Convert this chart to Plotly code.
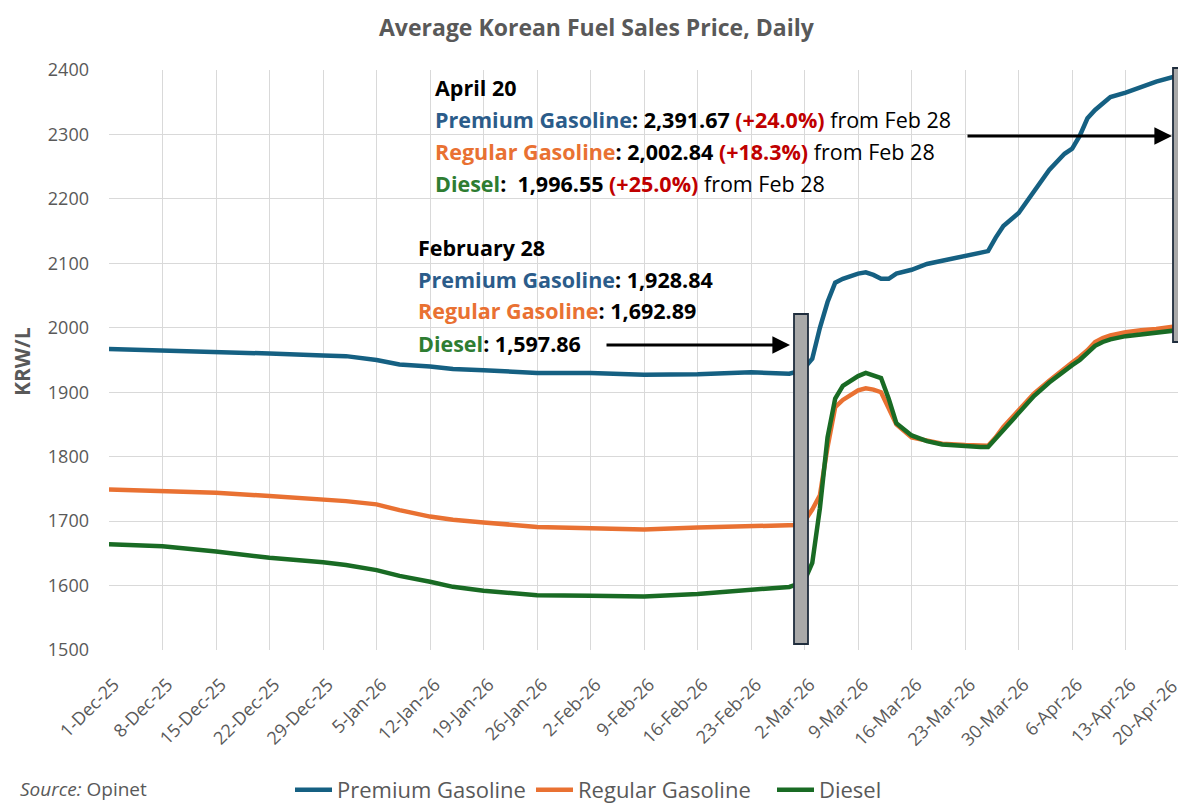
import plotly.graph_objects as go

# ---------------- data ----------------
dates = ["2025-12-01","2025-12-08","2025-12-15","2025-12-22","2025-12-29","2026-01-01","2026-01-05",
         "2026-01-08","2026-01-12","2026-01-15","2026-01-19","2026-01-26","2026-02-02","2026-02-09",
         "2026-02-16","2026-02-23","2026-02-28","2026-03-01","2026-03-02","2026-03-03","2026-03-04",
         "2026-03-05","2026-03-06","2026-03-07","2026-03-09","2026-03-10","2026-03-11","2026-03-12",
         "2026-03-13","2026-03-14","2026-03-16","2026-03-18","2026-03-20","2026-03-23","2026-03-25",
         "2026-03-26","2026-03-27","2026-03-28","2026-03-30","2026-04-01","2026-04-03","2026-04-05",
         "2026-04-06","2026-04-07","2026-04-08","2026-04-09","2026-04-10","2026-04-11","2026-04-13",
         "2026-04-15","2026-04-17","2026-04-20"]

premium = [1967,1965,1963,1960,1957,1956,1950,1943,1940,1936,1934,1930,1930,1927,1928,1931,1928.84,
           1932,1938,1952,2000,2040,2070,2076,2084,2086,2082,2076,2076,2084,2090,2099,2104,2112,2117,
           2119,2140,2158,2178,2212,2245,2270,2278,2298,2325,2338,2348,2358,2365,2373,2382,2391.67]

regular = [1749,1747,1744,1739,1734,1731,1726,1717,1707,1702,1698,1691,1689,1687,1690,1692,1692.89,
           1694,1700,1718,1740,1815,1877,1888,1903,1906,1904,1900,1875,1850,1830,1825,1820,1818,1818,
           1817,1830,1846,1872,1898,1918,1938,1946,1955,1965,1978,1984,1988,1993,1996,1998,2002.84]

diesel = [1664,1661,1653,1643,1636,1632,1624,1615,1606,1598,1592,1585,1584,1583,1587,1594,1597.86,
          1602,1608,1635,1720,1830,1890,1910,1925,1930,1926,1922,1890,1852,1833,1824,1819,1816,1815,
          1815,1828,1843,1868,1894,1915,1934,1942,1950,1960,1972,1978,1982,1987,1990,1993,1996.55]

tick_dates = ["2025-12-01","2025-12-08","2025-12-15","2025-12-22","2025-12-29","2026-01-05","2026-01-12",
              "2026-01-19","2026-01-26","2026-02-02","2026-02-09","2026-02-16","2026-02-23","2026-03-02",
              "2026-03-09","2026-03-16","2026-03-23","2026-03-30","2026-04-06","2026-04-13","2026-04-20"]
tick_labels = ["1-Dec-25","8-Dec-25","15-Dec-25","22-Dec-25","29-Dec-25","5-Jan-26","12-Jan-26",
               "19-Jan-26","26-Jan-26","2-Feb-26","9-Feb-26","16-Feb-26","23-Feb-26","2-Mar-26",
               "9-Mar-26","16-Mar-26","23-Mar-26","30-Mar-26","6-Apr-26","13-Apr-26","20-Apr-26"]

series_names = ["Premium Gasoline", "Regular Gasoline", "Diesel"]
series_colors = ["#156082", "#E97132", "#196B24"]

# ---------------- layout helpers ----------------
OFF = 8                      # page body margin offset
W, H = 1186 - OFF, 804 - OFF
L, R, T, B = 109 - OFF, 3, 70 - OFF, 154
PW, PH = W - L - R, H - T - B

def px(x):  # reference-pixel -> paper x
    return (x - OFF - L) / PW

def py(y):  # reference-pixel -> paper y
    return (H - B - (y - OFF)) / PH

FONT = "Open Sans"
GRAY = "#595959"
BLUE_T = "#2B5C8A"
ORANGE_T = "#E97132"
GREEN_T = "#2E7D32"
RED_T = "#C00000"
TS = 21.5

fig = go.Figure()
for name, vals, col in zip(series_names, [premium, regular, diesel], series_colors):
    fig.add_trace(go.Scatter(x=dates, y=vals, name=name, mode="lines",
                             line=dict(color=col, width=4.5)))

annotations = []
def txt(x, y, text, size=TS):
    annotations.append(dict(xref="paper", yref="paper", x=px(x), y=py(y), text=text,
                            showarrow=False, xanchor="left", yanchor="middle",
                            font=dict(family=FONT, size=size, color="#000000")))

def sp(c, s):
    return f"<span style='color:{c}'>{s}</span>"

txt(433, 88, "<b>April 20</b>")
txt(433, 120, "<b>" + sp(BLUE_T, "Premium Gasoline") + ": 2,391.67 " + sp(RED_T, "(+24.0%)") + "</b> from Feb 28")
txt(433, 151, "<b>" + sp(ORANGE_T, "Regular Gasoline") + ": 2,002.84 " + sp(RED_T, "(+18.3%)") + "</b> from Feb 28")
txt(433, 183, "<b>" + sp(GREEN_T, "Diesel") + ":  1,996.55 " + sp(RED_T, "(+25.0%)") + "</b> from Feb 28")

txt(416, 248, "<b>February 28</b>")
txt(416, 279, "<b>" + sp(BLUE_T, "Premium Gasoline") + ": 1,928.84</b>")
txt(416, 310, "<b>" + sp(ORANGE_T, "Regular Gasoline") + ": 1,692.89</b>")
txt(416, 343, "<b>" + sp(GREEN_T, "Diesel") + ": 1,597.86</b>")

# arrows
for (x0, x1, y) in [(605, 790, 345), (966, 1172, 136)]:
    annotations.append(dict(xref="paper", yref="paper", axref="pixel", ayref="pixel",
                            x=px(x1), y=py(y), ax=-(x1 - x0), ay=0, text="",
                            showarrow=True, arrowhead=2, arrowsize=1.1, arrowwidth=3.2,
                            arrowcolor="#000000"))

# last x tick label drawn as an annotation so it stays inside the page edge
annotations.append(dict(xref="paper", yref="paper", x=px(1185), y=py(671), xanchor="right",
                        yanchor="top", showarrow=False, textangle=-45, text=tick_labels[-1],
                        font=dict(family=FONT, size=18, color=GRAY)))

# title as annotation, kept inside the top edge
annotations.append(dict(xref="paper", yref="paper", x=px(597), y=py(9), xanchor="center",
                        yanchor="top", showarrow=False,
                        text="<b>Average Korean Fuel Sales Price, Daily</b>",
                        font=dict(family=FONT, size=23, color=GRAY)))

# source
annotations.append(dict(xref="paper", yref="paper", x=px(18), y=py(789), xanchor="left",
                        yanchor="middle", showarrow=False,
                        text="<i>Source:</i> Opinet",
                        font=dict(family=FONT, size=19, color=GRAY)))
# y-axis title
annotations.append(dict(xref="paper", yref="paper", x=px(22), y=py(362), xanchor="center",
                        yanchor="middle", showarrow=False, textangle=-90,
                        text="<b>KRW/L</b>", font=dict(family=FONT, size=21, color=GRAY)))

shapes = []
for (x0, x1, y0, y1) in [(794, 808, 314, 644), (1173, 1186, 68, 342)]:
    shapes.append(dict(type="rect", xref="paper", yref="paper",
                       x0=px(x0), x1=px(x1), y0=py(y1), y1=py(y0),
                       fillcolor="#A9A9A9", line=dict(color="#1F2D3D", width=1.8), layer="above"))

fig.update_layout(
    width=W, height=H,
    margin=dict(l=L, r=R, t=T, b=B, autoexpand=False),
    paper_bgcolor="white", plot_bgcolor="white",
    font=dict(family=FONT, color=GRAY),
    showlegend=True,
    legend=dict(orientation="h", x=px(290), xanchor="left", y=py(790), yanchor="middle",
                font=dict(family=FONT, size=22, color=GRAY), traceorder="normal",
                itemwidth=37, entrywidth=189, entrywidthmode="pixels",
                bgcolor="rgba(0,0,0,0)"),
    annotations=annotations,
    shapes=shapes,
)

fig.update_xaxes(type="date", range=["2025-12-01", "2026-04-20 12:00"],
                 tickvals=tick_dates, ticktext=tick_labels[:-1] + [""], tickangle=-45,
                 tickfont=dict(family=FONT, size=18, color=GRAY),
                 showgrid=True, gridcolor="#D9D9D9", gridwidth=1, automargin=False,
                 ticklabeloverflow="allow", ticklabelshift=5,
                 ticks="outside", ticklen=16, tickcolor="rgba(0,0,0,0)",
                 showline=False, zeroline=False)
fig.update_yaxes(range=[1500, 2400], dtick=100, tick0=1500,
                 tickfont=dict(family=FONT, size=18, color=GRAY),
                 showgrid=True, gridcolor="#D9D9D9", gridwidth=1, automargin=False,
                 showline=False, zeroline=False, ticks="", ticklabelstandoff=19)

fig.write_html("out.html")
